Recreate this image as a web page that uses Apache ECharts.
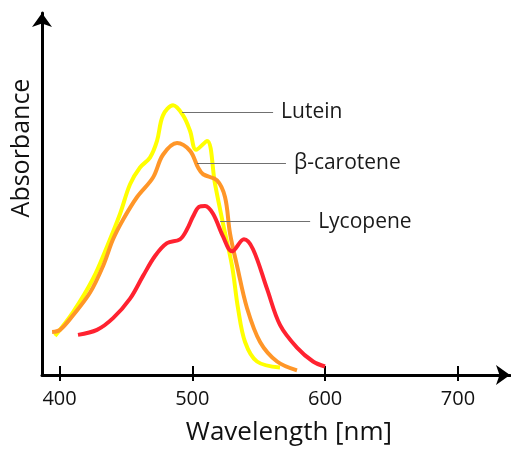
<!DOCTYPE html>
<html>
<head>
<meta charset="utf-8">
<script src="https://cdn.jsdelivr.net/npm/echarts@6/dist/echarts.min.js"></script>
<style>
  html, body { margin: 0; padding: 0; background: #fff; }
  #chart { width: 511px; height: 451px; }
</style>
</head>
<body>
<div id="chart"></div>
<script>
// wavelength ticks shown on the x axis
const xTicks = [400, 500, 600, 700];

// Lutein (yellow)
const luteinWl = [396.6, 410.2, 425.2, 435.8, 445.6, 453.1, 460.6, 468.1, 473.4, 477.9, 485.5, 493.0, 498.3, 502.8, 511.1, 517.1, 523.1, 529.9, 534.4, 539.7, 548.7, 566.0];
const luteinAbs = [0.110, 0.177, 0.271, 0.362, 0.454, 0.537, 0.584, 0.612, 0.659, 0.731, 0.759, 0.731, 0.687, 0.634, 0.659, 0.537, 0.426, 0.307, 0.188, 0.093, 0.038, 0.021];

// beta-carotene (orange)
const caroteneWl = [394.4, 400.4, 410.2, 423.0, 432.8, 440.3, 447.8, 458.4, 470.4, 477.9, 488.5, 498.3, 504.3, 508.1, 518.6, 524.6, 528.4, 533.7, 541.2, 551.0, 563.8, 578.8];
const caroteneAbs = [0.121, 0.127, 0.168, 0.232, 0.307, 0.382, 0.437, 0.501, 0.556, 0.620, 0.653, 0.631, 0.584, 0.565, 0.548, 0.501, 0.398, 0.307, 0.188, 0.093, 0.038, 0.013];

// Lycopene (red)
const lycopeneWl = [413.9, 428.2, 440.3, 453.1, 462.9, 471.9, 480.9, 490.7, 496.0, 500.5, 505.0, 509.6, 515.6, 523.1, 529.9, 538.9, 545.7, 556.2, 566.0, 578.8, 590.9, 599.9];
const lycopeneAbs = [0.113, 0.127, 0.160, 0.215, 0.279, 0.335, 0.371, 0.382, 0.410, 0.446, 0.473, 0.476, 0.454, 0.390, 0.348, 0.382, 0.354, 0.243, 0.141, 0.077, 0.038, 0.024];

const zip = (xs, ys) => xs.map((x, i) => [x, ys[i]]);

var chart = echarts.init(document.getElementById('chart'));
const font = '"Open Sans", "Noto Sans", sans-serif';

const leader = (name, x1, x2, y) => ({
    symbol: 'none',
    silent: true,
    lineStyle: { color: '#707070', width: 1.2, type: 'solid' },
    label: {
        show: true, position: 'end', formatter: name, distance: 8,
        color: '#1a1a1a', fontSize: 21, fontFamily: font
    },
    data: [[{ coord: [x1, y] }, { coord: [x2, y] }]]
});

const line = (name, data, color, mark) => ({
    name: name,
    type: 'line',
    smooth: 0.35,
    showSymbol: false,
    data: data,
    lineStyle: { color: color, width: 4 },
    itemStyle: { color: color },
    markLine: mark
});

var option = {
    animation: false,
    grid: { left: 42, right: 1, top: 13, bottom: 70 },
    xAxis: [{
        type: 'value',
        min: 386.8,
        max: 739.2,
        splitLine: { show: false },
        axisLine: {
            lineStyle: { color: '#000', width: 3 },
            symbol: ['none', 'arrow'],
            symbolSize: [15, 14]
        },
        axisTick: { show: true, length: 6, lineStyle: { color: '#000', width: 2 }, customValues: xTicks },
        axisLabel: { color: '#111', fontSize: 20, fontFamily: font, margin: 14, customValues: xTicks },
        name: 'Wavelength [nm]',
        nameLocation: 'middle',
        nameGap: 45,
        nameTextStyle: { color: '#111', fontSize: 26, fontFamily: font, padding: [0, 0, 0, 26] }
    }, {
        type: 'value',
        min: 386.8,
        max: 739.2,
        position: 'bottom',
        splitLine: { show: false },
        axisLine: { show: false },
        axisTick: { show: true, inside: true, length: 9, lineStyle: { color: '#000', width: 2 }, customValues: xTicks },
        axisLabel: { show: false }
    }],
    yAxis: {
        type: 'value',
        min: 0,
        max: 1.019,
        splitLine: { show: false },
        axisTick: { show: false },
        axisLabel: { show: false },
        axisLine: {
            show: true,
            lineStyle: { color: '#000', width: 3 },
            symbol: ['none', 'arrow'],
            symbolSize: [15, 14]
        },
        name: 'Absorbance',
        nameLocation: 'middle',
        nameRotate: 90,
        nameGap: 8,
        nameTextStyle: { color: '#111', fontSize: 25, fontFamily: font, padding: [0, 0, 0, 92] }
    },
    series: [
        line('Lutein', zip(luteinWl, luteinAbs), '#ffff00', leader('Lutein', 492.2, 560.8, 0.739)),
        line('β-carotene', zip(caroteneWl, caroteneAbs), '#ff9628', leader('β-carotene', 503.5, 570.5, 0.597)),
        line('Lycopene', zip(lycopeneWl, lycopeneAbs), '#ff2230', leader('Lycopene', 520.9, 588.7, 0.432))
    ]
};

chart.setOption(option);
</script>
</body>
</html>
